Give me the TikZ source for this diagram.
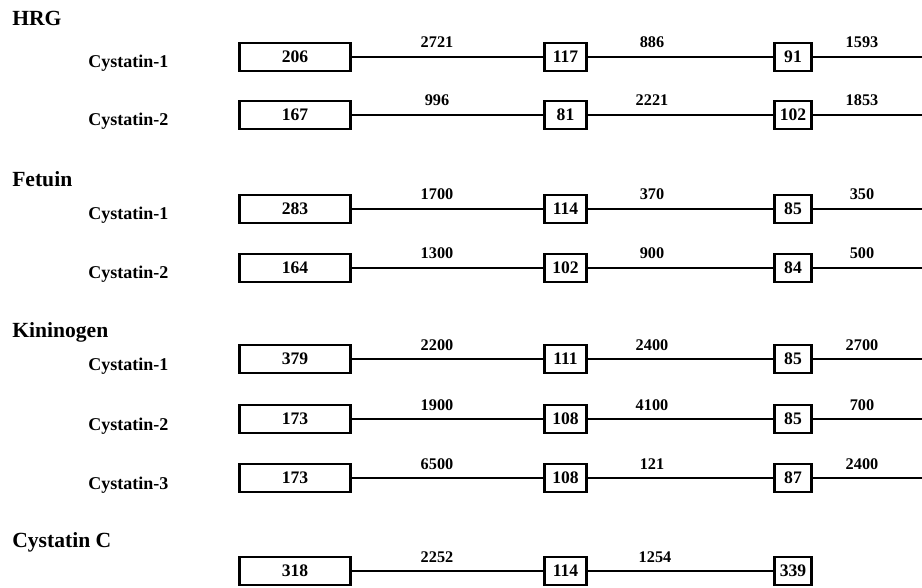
\documentclass[tikz,border=0pt]{standalone}
\usepackage{fontspec}
\setmainfont{Liberation Serif}
\begin{document}
\begin{tikzpicture}[x=0.75pt,y=-0.75pt,
  bigbox/.style={draw,line width=2.1pt,minimum width=83.5pt,minimum height=21pt,inner sep=0pt,
    font=\fontsize{13.2}{13.2}\selectfont\bfseries},
  midbox/.style={bigbox,minimum width=31.5pt},
  endbox/.style={bigbox,minimum width=28pt},
  link/.style={line width=1.9pt},
  seglab/.style={font=\fontsize{12.2}{12.2}\selectfont\bfseries,anchor=base,inner sep=0pt},
  rowlab/.style={font=\fontsize{13.5}{13.5}\selectfont\bfseries,anchor=base west,inner sep=0pt},
  grouplab/.style={font=\fontsize{16.2}{16.2}\selectfont\bfseries,anchor=base west,inner sep=0pt}]
\useasboundingbox (0,0) rectangle (922,588);

\newcommand\generow[9]{%
  \node[rowlab] (#1l) at (88,#2+11) {#3};
  \node[bigbox] (#1a) at (295,#2) {#4};
  \node[midbox] (#1b) at (565.5,#2) {#5};
  \node[endbox] (#1c) at (793,#2) {#6};
  \coordinate (#1e) at (922,#2);
  \draw[link] (#1a) -- (#1b);
  \draw[link] (#1b) -- (#1c);
  \draw[link] (#1c) -- (#1e);
  \node[seglab] (#1s1) at (437,#2-9) {#7};
  \node[seglab] (#1s2) at (652,#2-9) {#8};
  \node[seglab] (#1s3) at (862,#2-9) {#9};
}

\node[grouplab] (hrg) at (12,26) {HRG};
\generow{ha}{57}{Cystatin-1}{206}{117}{91}{2721}{886}{1593}
\generow{hb}{115}{Cystatin-2}{167}{81}{102}{996}{2221}{1853}

\node[grouplab] (fet) at (12,187) {Fetuin};
\generow{fa}{209}{Cystatin-1}{283}{114}{85}{1700}{370}{350}
\generow{fb}{268}{Cystatin-2}{164}{102}{84}{1300}{900}{500}

\node[grouplab] (kin) at (12,338) {Kininogen};
\generow{ka}{359}{Cystatin-1}{379}{111}{85}{2200}{2400}{2700}
\generow{kb}{419}{Cystatin-2}{173}{108}{85}{1900}{4100}{700}
\generow{kc}{478}{Cystatin-3}{173}{108}{87}{6500}{121}{2400}

\node[grouplab] (cyc) at (12,547) {Cystatin C};
\node[bigbox] (ca) at (295,571) {318};
\node[midbox] (cb) at (565.5,571) {114};
\node[endbox] (cc) at (793,571) {339};
\draw[link] (ca) -- (cb);
\draw[link] (cb) -- (cc);
\node[seglab] (cs1) at (437,562) {2252};
\node[seglab] (cs2) at (655,562) {1254};
\end{tikzpicture}
\end{document}
